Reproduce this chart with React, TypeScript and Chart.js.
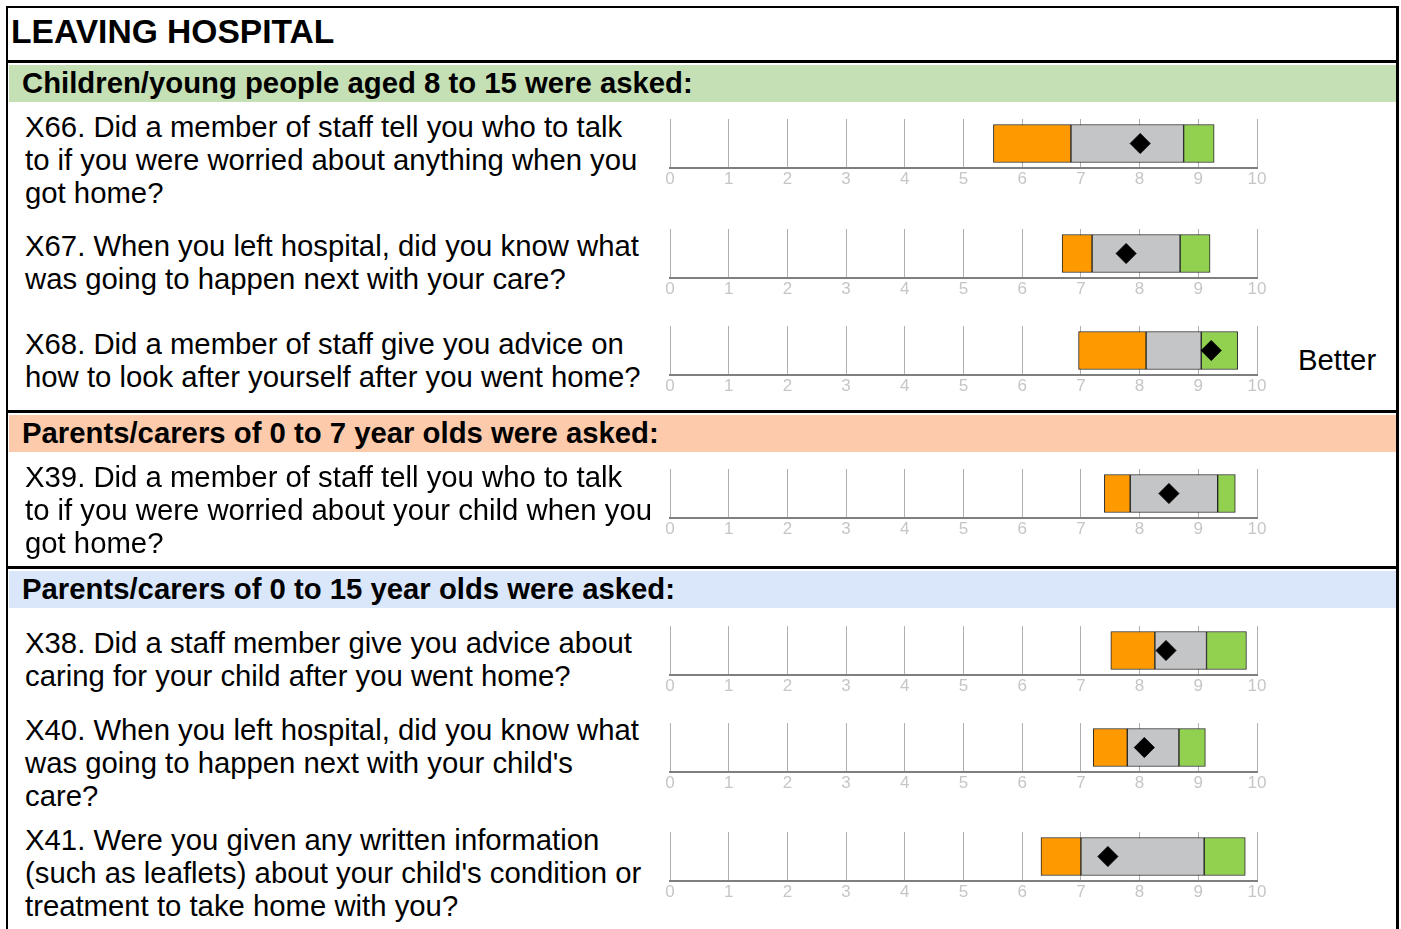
import React, { useEffect, useRef } from 'react';
import { Chart, registerables } from 'chart.js';

Chart.register(...registerables);

// ---------- data ----------
const questionCodes = ['X66', 'X67', 'X68', 'X39', 'X38', 'X40', 'X41'];

const questionTexts: string[][] = [
  ['X66. Did a member of staff tell you who to talk', 'to if you were worried about anything when you', 'got home?'],
  ['X67. When you left hospital, did you know what', 'was going to happen next with your care?'],
  ['X68. Did a member of staff give you advice on', 'how to look after yourself after you went home?'],
  ['X39. Did a member of staff tell you who to talk', 'to if you were worried about your child when you', 'got home?'],
  ['X38. Did a staff member give you advice about', 'caring for your child after you went home?'],
  ['X40. When you left hospital, did you know what', "was going to happen next with your child's", 'care?'],
  ['X41. Were you given any written information', "(such as leaflets) about your child's condition or", 'treatment to take home with you?'],
];

const lowerLimits = [5.51, 6.68, 6.96, 7.40, 7.51, 7.21, 6.32];
const lowerMids = [6.83, 7.19, 8.11, 7.84, 8.26, 7.79, 7.00];
const upperMids = [8.75, 8.69, 9.05, 9.33, 9.14, 8.67, 9.10];
const upperLimits = [9.27, 9.20, 9.67, 9.63, 9.82, 9.12, 9.80];
const scores = [8.01, 7.77, 9.22, 8.50, 8.45, 8.08, 7.46];
const bandLabels = ['', '', 'Better', '', '', '', ''];

const tickLabels = ['0', '1', '2', '3', '4', '5', '6', '7', '8', '9', '10'];

const pageTitle = 'LEAVING HOSPITAL';
const sectionTitles = [
  'Children/young people aged 8 to 15 were asked:',
  'Parents/carers of 0 to 7 year olds were asked:',
  'Parents/carers of 0 to 15 year olds were asked:',
];

// ---------- layout / style ----------
const FONT = '"Liberation Sans", Arial, Helvetica, sans-serif';
const sectionLayout = [
  { lineTop: 60, bandTop: 65, color: '#c5e0b4' },
  { lineTop: 410, bandTop: 415, color: '#fdcbab' },
  { lineTop: 566, bandTop: 571, color: '#dae7fb' },
];
const rowTextCenters = [126, 245, 343, 476, 642, 729, 839];
const rowGridTops = [116, 226, 323, 466, 623, 720, 829];
const GRID_H = 51;
const PAD_TOP = 8;
const PAD_BOTTOM = 2;
const CANVAS_W = 640;
const CANVAS_H = PAD_TOP + GRID_H + 20 + 6;
const TEXT_SIZE = 29.3;

function RowChart({ index }: { index: number }) {
  const ref = useRef<HTMLCanvasElement>(null);
  useEffect(() => {
    if (!ref.current) return;
    const code = questionCodes[index];
    const seg = {
      type: 'bar' as const,
      borderColor: '#262626',
      borderWidth: 1,
      borderSkipped: false,
      barThickness: 38,
      grouped: false,
      order: 1,
    };
    const chart = new Chart(ref.current, {
      type: 'bar',
      data: {
        labels: [code],
        datasets: [
          {
            type: 'scatter',
            data: [{ x: scores[index], y: code }],
            pointStyle: 'rectRot',
            pointRadius: 10,
            pointHoverRadius: 10,
            backgroundColor: '#000000',
            borderColor: '#000000',
            borderWidth: 1,
            order: 0,
          } as any,
          { ...seg, data: [[lowerLimits[index], lowerMids[index]]], backgroundColor: '#ff9900' } as any,
          { ...seg, data: [[lowerMids[index], upperMids[index]]], backgroundColor: '#c4c5c6' } as any,
          { ...seg, data: [[upperMids[index], upperLimits[index]]], backgroundColor: '#92d050' } as any,
        ],
      },
      options: {
        indexAxis: 'y',
        responsive: false,
        animation: false,
        events: [],
        layout: { padding: { left: 25, right: 28, top: PAD_TOP, bottom: PAD_BOTTOM } },
        plugins: { legend: { display: false }, tooltip: { enabled: false } },
        scales: {
          x: {
            type: 'linear',
            min: 0,
            max: 10,
            ticks: {
              stepSize: 1,
              color: '#c6c6c6',
              font: { family: FONT, size: 17, lineHeight: 1 },
              padding: 3,
              autoSkip: false,
              maxRotation: 0,
              callback: (v: any) => tickLabels[Number(v)] ?? '',
            },
            grid: { color: '#b0b0b0', lineWidth: 1, drawTicks: false },
            border: { color: '#7f7f7f', width: 2 },
          },
          y: { type: 'category', display: false, offset: true },
        },
      } as any,
    });
    return () => chart.destroy();
  }, [index]);
  return (
    <canvas
      ref={ref}
      width={CANVAS_W}
      height={CANVAS_H}
      style={{
        position: 'absolute',
        left: 645,
        top: rowGridTops[index] - PAD_TOP,
        width: CANVAS_W,
        height: CANVAS_H,
      }}
    />
  );
}

export default function App() {
  const textStyle: React.CSSProperties = {
    position: 'absolute',
    fontFamily: FONT,
    fontSize: TEXT_SIZE,
    lineHeight: '33px',
    color: '#000',
    whiteSpace: 'pre',
    zIndex: 2,
  };
  return (
    <div
      style={{
        position: 'absolute',
        left: 0,
        top: 0,
        width: 1401,
        height: 929,
        overflow: 'hidden',
        background: '#ffffff',
        fontFamily: FONT,
      }}
    >
      {/* outer frame */}
      <div
        style={{
          position: 'absolute',
          left: 6,
          top: 6,
          width: 1388,
          height: 1000,
          borderLeft: '2px solid #000',
          borderRight: '3px solid #000',
          borderTop: '2px solid #000',
        }}
      />
      {/* title */}
      <div
        style={{
          position: 'absolute',
          left: 11,
          top: 12,
          fontFamily: FONT,
          fontWeight: 'bold',
          fontSize: 33.6,
          lineHeight: '40px',
          whiteSpace: 'pre',
        }}
      >
        {pageTitle}
      </div>
      {/* sections */}
      {sectionLayout.map((s, i) => (
        <React.Fragment key={i}>
          <div style={{ position: 'absolute', left: 6, top: s.lineTop, width: 1393, height: 3, background: '#000' }} />
          <div style={{ position: 'absolute', left: 9, top: s.bandTop, width: 1387, height: 37, background: s.color }} />
          <div
            style={{
              position: 'absolute',
              left: 22,
              top: s.bandTop - 1,
              fontFamily: FONT,
              fontWeight: 'bold',
              fontSize: TEXT_SIZE,
              lineHeight: '37px',
              whiteSpace: 'pre',
              zIndex: 2,
            }}
          >
            {sectionTitles[i]}
          </div>
        </React.Fragment>
      ))}
      {/* question rows */}
      {questionCodes.map((code, i) => (
        <React.Fragment key={code}>
          <div style={{ ...textStyle, left: 25, top: rowTextCenters[i] - 16.5 }}>
            {questionTexts[i].map((line, j) => (
              <div key={j}>{line}</div>
            ))}
          </div>
          <RowChart index={i} />
          {bandLabels[i] ? (
            <div style={{ ...textStyle, left: 1298, top: rowGridTops[i] + 20 }}>{bandLabels[i]}</div>
          ) : null}
        </React.Fragment>
      ))}
    </div>
  );
}
